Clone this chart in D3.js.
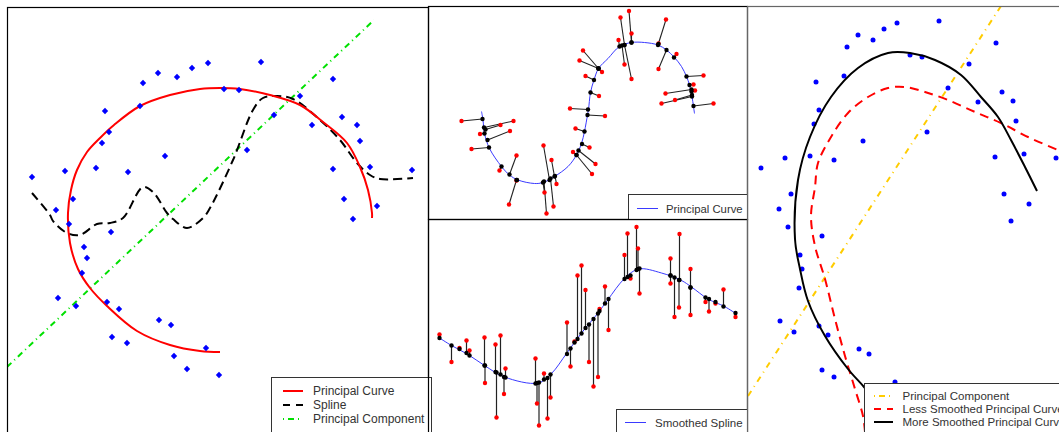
<!DOCTYPE html>
<html lang="en">
<head>
<meta charset="utf-8">
<title>Principal Curves</title>
<script src="https://d3js.org/d3.v7.min.js"></script>
<style>
  body { margin: 0; background: #fff; }
  svg { display: block; }
  .legend text { font-family: "Liberation Sans", Arial, sans-serif; fill: #333; }
  .frame { fill: none; stroke: #000; stroke-width: 1.2px; }
</style>
</head>
<body>
<script>
// ---------- panel A: circle data, principal curve vs spline ----------
const circlePoints = [
  [-1.88,0.58],[-1.64,0.25],[-1.55,0.64],[-1.47,0.36],[-1.24,0.67],[-1.18,0.92],[-1.11,1.03],
  [-1.15,1.24],[-0.92,0.63],[-0.80,1.29],[-0.77,1.52],[-0.62,1.62],[-0.55,0.79],[-0.43,1.58],
  [-0.28,1.67],[-0.12,1.72],[0.04,1.46],[0.19,1.45],[0.27,0.85],[0.41,1.73],[0.54,1.20],
  [0.80,1.39],[0.92,1.10],[1.13,1.56],[1.22,1.18],[1.37,1.10],[1.40,0.94],[1.13,0.66],
  [1.50,0.68],[1.24,0.36],[1.57,0.29],[1.92,0.65],[-1.51,0.11],[-1.09,0.03],[-1.36,-0.12],
  [-1.33,-0.23],[-1.38,-0.38],[-1.62,-0.63],[-1.44,-0.71],[-1.13,-0.67],[-1.01,-0.74],
  [-0.61,-0.85],[-0.49,-0.90],[-1.08,-1.02],[-0.93,-1.08],[-0.14,-1.13],[-0.46,-1.21],
  [-0.33,-1.34],[-0.01,-1.40],[1.33,0.16]
];
const circleCurve = [
  [1.52,0.17],[1.52,0.22],[1.48,0.45],[1.40,0.68],[1.27,0.92],[1.03,1.13],[0.80,1.30],
  [0.50,1.40],[0.20,1.46],[0,1.47],[-0.20,1.46],[-0.50,1.40],[-0.80,1.29],[-1.06,1.10],
  [-1.20,0.97],[-1.33,0.83],[-1.43,0.65],[-1.49,0.45],[-1.52,0.22],[-1.50,-0.08],[-1.42,-0.34],
  [-1.30,-0.53],[-1.13,-0.71],[-0.83,-0.96],[-0.50,-1.10],[-0.20,-1.16],[0,-1.17]
];
const circleSpline = [
  [-1.88,0.42],[-1.70,0.20],[-1.67,0.14],[-1.53,0.02],[-1.40,0.00],[-1.23,0.11],[-1.10,0.12],
  [-0.97,0.17],[-0.77,0.48],[-0.67,0.43],[-0.53,0.22],[-0.47,0.16],[-0.33,0.07],[-0.17,0.17],
  [-0.10,0.27],[0.13,0.75],[0.33,1.25],[0.43,1.37],[0.57,1.39],[0.73,1.36],[1.00,1.15],
  [1.20,0.95],[1.37,0.72],[1.50,0.60],[1.60,0.56],[1.93,0.57]
];
const circlePC = [[-2.13,-1.32],[1.54,2.15]];
const legendA = ["Principal Curve", "Spline", "Principal Component"];

// ---------- panel B: S-shaped data with projections ----------
const sCurve = [
  [-2.11,0.01],[-2.08,-0.16],[-2.05,-0.43],[-1.95,-0.73],[-1.71,-1.09],[-1.55,-1.26],[-1.38,-1.36],
  [-1.05,-1.43],[-0.88,-1.41],[-0.65,-1.29],[-0.38,-1.09],[-0.21,-0.86],[-0.11,-0.63],[-0.05,-0.39],
  [0.01,-0.06],[0.03,0.05],[0.07,0.39],[0.14,0.64],[0.23,0.87],[0.42,1.07],[0.65,1.31],[0.89,1.39],
  [1.15,1.39],[1.42,1.34],[1.59,1.24],[1.75,1.09],[1.89,0.91],[1.99,0.71],[2.05,0.54],[2.10,0.31],
  [2.13,0.11],[2.15,-0.03]
];
// observed point, projection on curve
const sObserved = [
  [-2.51,-0.18],[-2.31,-0.74],[-2.14,-0.44],[-1.73,-0.26],[-1.47,-0.18],[-1.54,-0.38],[-1.75,-1.17],
  [-1.41,-0.87],[-1.56,-1.85],[-1.41,-1.37],[-0.87,-0.67],[-0.85,-1.61],[-0.81,-2.03],[-0.67,-1.89],
  [-0.71,-0.96],[-0.61,-1.44],[-0.28,-0.80],[0.10,-1.24],[0.17,-1.04],[0.05,-0.71],[-0.23,-0.33],
  [-0.34,0.07],[0.36,-0.08],[0.24,0.32],[-0.03,0.72],[-0.15,1.03],[-0.08,1.23],[0.30,0.80],
  [0.67,1.89],[0.84,2.02],[0.89,1.57],[0.63,1.44],[0.75,0.95],[0.89,0.66],[1.58,1.85],[1.43,1.37],
  [1.43,0.86],[1.79,1.16],[2.33,0.73],[2.13,0.55],[2.16,0.43],[1.57,0.37],[1.76,0.24],[1.49,0.17],
  [2.53,0.17]
];
const sProjected = [
  [-2.09,-0.14],[-1.96,-0.71],[-2.05,-0.43],[-2.03,-0.35],[-2.06,-0.31],[-1.99,-0.56],[-1.71,-1.09],
  [-1.55,-1.25],[-1.41,-1.36],[-1.40,-1.36],[-0.75,-1.36],[-0.88,-1.41],[-0.86,-1.39],[-0.73,-1.33],
  [-0.65,-1.29],[-0.64,-1.28],[-0.21,-0.86],[-0.21,-0.86],[-0.17,-0.77],[-0.10,-0.64],[-0.05,-0.39],
  [0.02,0.05],[0.01,-0.06],[0.07,0.39],[0.14,0.64],[0.23,0.87],[0.23,0.87],[0.23,0.87],
  [0.75,1.34],[0.89,1.39],[0.89,1.39],[0.65,1.31],[0.70,1.33],[0.75,1.34],[1.42,1.34],[1.43,1.36],
  [1.59,1.24],[1.74,1.09],[1.99,0.71],[2.05,0.54],[2.09,0.41],[2.09,0.45],[2.10,0.34],[2.10,0.31],
  [2.13,0.12]
];

// ---------- panel C: wave data with smoothed spline ----------
const waveCurve = [
  [0.23,-0.16],[0.47,-0.31],[0.80,-0.49],[1.13,-0.71],[1.53,-0.94],[2.20,-1.06],[2.47,-0.87],
  [2.77,-0.47],[3.07,-0.06],[3.40,0.34],[3.60,0.61],[3.93,1.03],[4.21,1.22],[4.67,1.14],
  [5.07,0.99],[5.27,0.86],[5.60,0.62],[5.93,0.47],[6.17,0.32]
];
const waveX = [0.23,0.47,0.63,0.77,0.83,1.13,1.14,1.35,1.37,1.45,1.52,1.55,2.15,2.18,2.22,2.32,2.39,2.45,
  2.78,2.85,2.93,2.99,3.07,3.15,3.22,3.31,3.40,3.43,3.54,3.61,3.93,3.99,4.05,4.17,4.20,4.23,
  4.85,4.85,4.93,5.03,5.02,5.25,5.25,5.55,5.62,5.75,5.91,6.15];
const waveObserved = [-0.09,-0.64,-0.36,-0.21,-0.41,-0.15,-1.06,-0.29,-1.75,-0.11,-1.28,-0.77,-0.57,-1.47,-1.91,-0.87,-1.77,-1.35,
  0.15,-0.73,-0.23,1.09,1.29,0.80,-0.64,-1.13,-0.94,0.42,0.87,0.00,1.50,1.93,1.03,2.06,1.63,0.73,
  1.43,0.93,0.26,1.92,0.45,1.22,0.30,0.56,0.37,0.53,0.81,0.26];
const waveFitted = [-0.16,-0.31,-0.38,-0.46,-0.51,-0.71,-0.71,-0.84,-0.85,-0.89,-0.94,-0.95,-1.07,-1.06,-1.05,-0.99,-0.96,-0.89,
  -0.48,-0.37,-0.25,-0.18,-0.07,0.04,0.11,0.22,0.33,0.38,0.53,0.62,1.02,1.06,1.09,1.20,1.22,1.23,
  1.09,1.09,1.05,1.00,1.00,0.85,0.85,0.65,0.62,0.56,0.47,0.34];

// ---------- panel D: smoothing comparison ----------
const arcPoints = [
  [-1.39,0.67],[-1.21,0.26],[-1.15,0.77],[-1.09,0.41],[-0.90,0.79],[-0.86,1.11],[-0.81,1.25],
  [-0.84,1.53],[-0.66,0.75],[-0.56,1.59],[-0.53,1.88],[-0.42,2.00],[-0.37,0.94],[-0.27,1.95],
  [-0.16,2.06],[-0.03,2.12],[0.10,1.80],[0.22,1.78],[0.27,1.03],[0.39,2.14],[0.48,1.47],
  [0.69,1.71],[0.78,1.33],[0.95,0.78],[0.96,1.92],[1.02,1.43],[1.04,0.41],[1.13,1.34],
  [1.16,1.14],[1.24,0.81],[1.29,0.31],[1.56,0.77],[-1.12,0.08],[-0.78,-0.01],[-1.00,-0.20],
  [-0.98,-0.34],[-1.01,-0.53],[-1.20,-0.86],[-1.06,-0.97],[-0.81,-0.91],[-0.72,-1.00],
  [-0.41,-1.14],[-0.31,-1.19],[-0.78,-1.35],[-0.66,-1.42],[1.11,0.14],[-0.05,-1.47]
];
const arcMoreSmooth = [
  [-0.28,-1.62],[-0.36,-1.52],[-0.52,-1.34],[-0.75,-1.01],[-0.92,-0.66],[-1.00,-0.34],[-1.05,-0.04],
  [-1.02,0.55],[-0.90,0.98],[-0.69,1.38],[-0.42,1.67],[-0.12,1.82],[0.10,1.82],[0.35,1.75],
  [0.61,1.60],[0.81,1.38],[0.98,1.18],[1.11,0.95],[1.25,0.68],[1.37,0.44]
];
const arcLessSmooth = [
  [-0.35,-1.97],[-0.37,-1.81],[-0.45,-1.54],[-0.55,-1.21],[-0.65,-0.84],[-0.75,-0.44],[-0.85,-0.11],
  [-0.89,0.19],[-0.85,0.48],[-0.82,0.72],[-0.69,0.98],[-0.52,1.22],[-0.32,1.38],[-0.12,1.47],
  [0.05,1.48],[0.25,1.43],[0.48,1.35],[0.75,1.23],[1.01,1.12],[1.28,0.98],[1.58,0.85],[1.75,0.78]
];
const arcPC = [[-1.52,-1.61],[1.01,2.29]];
const legendD = ["Principal Component", "Less Smoothed Principal Curve", "More Smoothed Principal Curve"];

// ---------- drawing ----------
const W = 1059, H = 432;
const svg = d3.select("body").append("svg").attr("width", W).attr("height", H);

function panel(id, x0, y0, x1, y1, xDom, yDom) {
  svg.append("clipPath").attr("id", id)
     .append("rect").attr("x", x0).attr("y", y0).attr("width", x1 - x0).attr("height", y1 - y0);
  const g = svg.append("g").attr("clip-path", `url(#${id})`);
  const x = d3.scaleLinear().domain(xDom).range([x0, x1]);
  const y = d3.scaleLinear().domain(yDom).range([y1, y0]);
  const line = d3.line().x(d => x(d[0])).y(d => y(d[1]));
  return { g, x, y, line, box: [x0, y0, x1, y1] };
}

function legend(x0, y0, w, h, rows, fontSize, rowH, sx0, sx1, tx) {
  const g = svg.append("g").attr("class", "legend");
  g.append("rect").attr("x", x0 + 0.5).attr("y", y0 + 0.5).attr("width", w).attr("height", h)
   .attr("fill", "#fff").attr("stroke", "#333");
  rows.forEach((r, i) => {
    const yy = y0 + rowH * (i + 1) + (r.off || 0);
    g.append("line").attr("x1", sx0).attr("x2", sx1).attr("y1", yy).attr("y2", yy)
     .attr("stroke", r.color).attr("stroke-width", r.width || 2)
     .attr("stroke-dasharray", r.dash || null);
    g.append("text").attr("x", tx).attr("y", yy + fontSize * 0.36)
     .attr("font-size", fontSize).text(r.label);
  });
}

// Panel A
const A = panel("clipA", 7, 7, 428, 440, [-2.13, 2.08], [-2.05, 2.28]);
A.g.append("path").datum(circlePC).attr("d", A.line)
   .attr("fill", "none").attr("stroke", "#00e000").attr("stroke-width", 2).attr("stroke-dasharray", "6,4,1,4");
A.g.append("path").datum(circleSpline).attr("d", A.line.curve(d3.curveCatmullRom))
   .attr("fill", "none").attr("stroke", "#000").attr("stroke-width", 2).attr("stroke-dasharray", "9,5");
A.g.append("path").datum(circleCurve).attr("d", A.line.curve(d3.curveCatmullRom))
   .attr("fill", "none").attr("stroke", "#f00").attr("stroke-width", 2);
A.g.selectAll(".pt").data(circlePoints).join("path").attr("class", "pt")
   .attr("d", d3.symbol(d3.symbolSquare, 20))
   .attr("transform", d => `translate(${A.x(d[0])},${A.y(d[1])}) rotate(45)`)
   .attr("fill", "#00f");
svg.append("rect").attr("class", "frame").attr("x", 7.5).attr("y", 7.5).attr("width", 421).attr("height", 440);
legend(271, 377, 160, 60, [
  { label: legendA[0], color: "#f00" },
  { label: legendA[1], color: "#000", dash: "7,6" },
  { label: legendA[2], color: "#00e000", dash: "1,4,6,4" }
], 12, 14, 283, 303, 313);

// Panel B
const B = panel("clipB", 428, 6, 747, 219, [-3.18, 3.2], [-2.14, 2.12]);
B.g.append("path").datum(sCurve).attr("d", B.line.curve(d3.curveCatmullRom))
   .attr("fill", "none").attr("stroke", "#3a3aff").attr("stroke-width", 1);
B.g.selectAll(".seg").data(sObserved).join("line").attr("class", "seg")
   .attr("x1", d => B.x(d[0])).attr("y1", d => B.y(d[1]))
   .attr("x2", (d, i) => B.x(sProjected[i][0])).attr("y2", (d, i) => B.y(sProjected[i][1]))
   .attr("stroke", "#222").attr("stroke-width", 1.1);
B.g.selectAll(".obs").data(sObserved).join("circle").attr("class", "obs")
   .attr("cx", d => B.x(d[0])).attr("cy", d => B.y(d[1])).attr("r", 2.2).attr("fill", "#f00");
B.g.selectAll(".proj").data(sProjected).join("circle").attr("class", "proj")
   .attr("cx", d => B.x(d[0])).attr("cy", d => B.y(d[1])).attr("r", 2.2).attr("fill", "#000");
svg.append("rect").attr("class", "frame").attr("x", 428.5).attr("y", 6.5).attr("width", 319).attr("height", 213);
legend(628, 194, 119, 25, [{ label: "Principal Curve", color: "#3a3aff", width: 1 }], 11.3, 14.5, 637, 658, 666);

// Panel C
const C = panel("clipC", 428, 219, 747, 440, [0, 6.38], [-2.2, 2.22]);
C.g.append("path").datum(waveCurve).attr("d", C.line.curve(d3.curveCatmullRom))
   .attr("fill", "none").attr("stroke", "#3a3aff").attr("stroke-width", 1);
C.g.selectAll(".seg").data(waveX).join("line").attr("class", "seg")
   .attr("x1", d => C.x(d)).attr("x2", d => C.x(d))
   .attr("y1", (d, i) => C.y(waveObserved[i])).attr("y2", (d, i) => C.y(waveFitted[i]))
   .attr("stroke", "#222").attr("stroke-width", 1.2);
C.g.selectAll(".obs").data(waveX).join("circle").attr("class", "obs")
   .attr("cx", d => C.x(d)).attr("cy", (d, i) => C.y(waveObserved[i])).attr("r", 2.2).attr("fill", "#f00");
C.g.selectAll(".fit").data(waveX).join("circle").attr("class", "fit")
   .attr("cx", d => C.x(d)).attr("cy", (d, i) => C.y(waveFitted[i])).attr("r", 2.2).attr("fill", "#000");
svg.append("rect").attr("class", "frame").attr("x", 428.5).attr("y", 219.5).attr("width", 319).attr("height", 230);
legend(616, 409, 131, 40, [{ label: "Smoothed Spline", color: "#3a3aff", width: 1 }], 11.5, 13.5, 625, 646, 655);

// Panel D
const D = panel("clipD", 747, 6, 1067, 440, [-1.53, 1.67], [-2.05, 2.29]);
D.g.append("path").datum(arcPC).attr("d", D.line)
   .attr("fill", "none").attr("stroke", "#ffcc00").attr("stroke-width", 2).attr("stroke-dasharray", "6,5,1,5");
D.g.append("path").datum(arcLessSmooth).attr("d", D.line.curve(d3.curveCatmullRom))
   .attr("fill", "none").attr("stroke", "#f00").attr("stroke-width", 2).attr("stroke-dasharray", "9,6");
D.g.selectAll(".pt").data(arcPoints).join("circle").attr("class", "pt")
   .attr("cx", d => D.x(d[0])).attr("cy", d => D.y(d[1])).attr("r", 2.5).attr("fill", "#00f");
D.g.append("path").datum(arcMoreSmooth).attr("d", D.line.curve(d3.curveCatmullRom))
   .attr("fill", "none").attr("stroke", "#000").attr("stroke-width", 2);
svg.append("rect").attr("class", "frame").attr("x", 747.5).attr("y", 6.5).attr("width", 330).attr("height", 440)
   .style("stroke", "#666");
legend(864, 383, 210, 60, [
  { label: legendD[0], color: "#ffcc00", dash: "1,4,6,4" },
  { label: legendD[1], color: "#f00", dash: "7,6" },
  { label: legendD[2], color: "#000" }
], 11.5, 13, 874, 893, 902.5);
</script>
</body>
</html>
